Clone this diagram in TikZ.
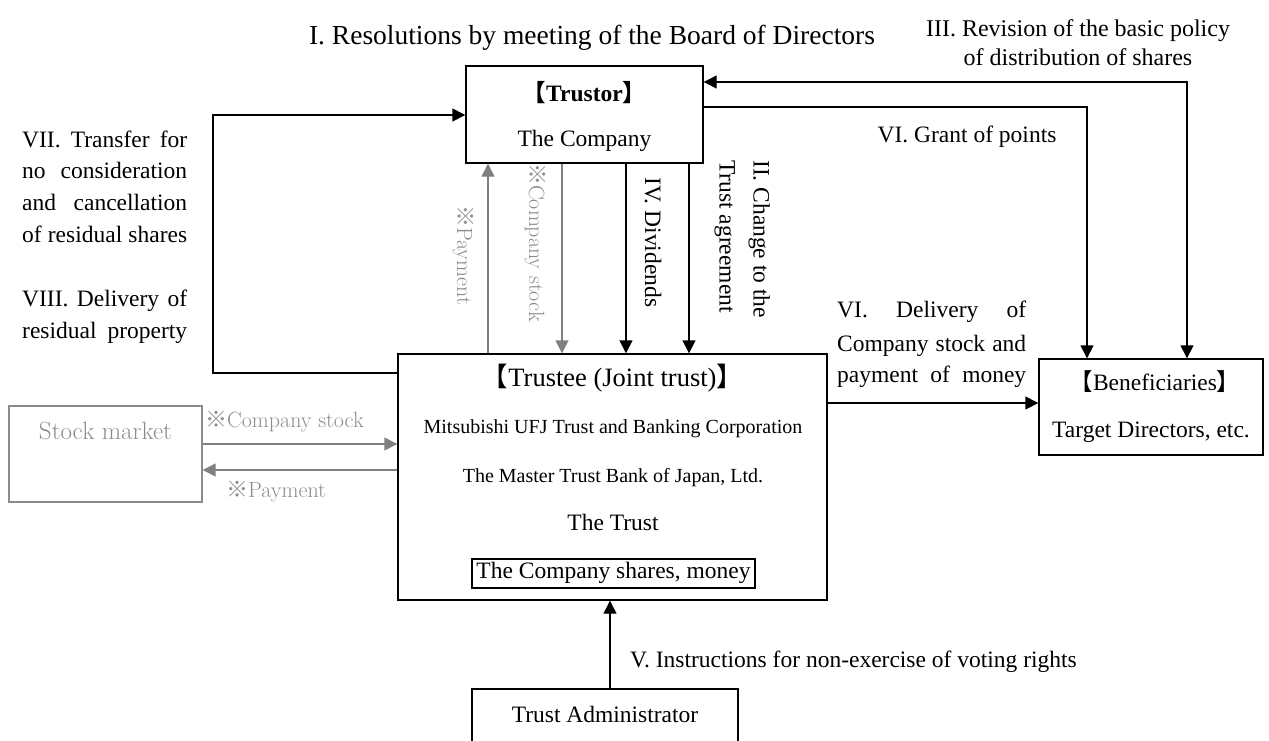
\documentclass[tikz,border=0pt]{standalone}
\usepackage{fontspec}
\setmainfont{Liberation Serif}
\newfontfamily\cjk{Noto Sans CJK JP}
\usetikzlibrary{arrows.meta}
\definecolor{arrgray}{HTML}{808080}
\definecolor{mktgray}{HTML}{8C8C8C}
\newcommand\kome{{\cjk ※}}
\newcommand\lbrk{{\cjk 【}}
\newcommand\rbrk{{\cjk 】}}
\newcommand\lmtext{\fontfamily{lmr}\selectfont}
\begin{document}
\begin{tikzpicture}[x=1pt,y=-1pt,
    box/.style={draw,line width=1.4pt,inner sep=0pt},
    txt/.style={inner sep=0pt,text height=15pt,text depth=7pt,font=\fontsize{23.5}{28}\selectfont},
    gtxt/.style={txt,text=mktgray,font=\fontsize{22}{26}\lmtext},
    link/.style={line width=1.4pt,-{Triangle[length=13pt,width=13pt]}},
    glink/.style={link,draw=arrgray}]
    \useasboundingbox (0,0) rectangle (1269,740);
    \clip (0,0) rectangle (1269,740);
    % boxes
    \node[box,minimum width=237pt,minimum height=97pt] (trustor) at (584.5,114.5) {};
    \node[box,minimum width=429pt,minimum height=246pt] (trustee) at (612.5,477) {};
    \node[box,minimum width=224pt,minimum height=96pt] (benef) at (1151,407) {};
    \node[box,draw=mktgray,minimum width=193pt,minimum height=96pt] (market) at (105.5,454) {};
    \node[box,minimum width=266pt,minimum height=62pt] (tadmin) at (605,720) {};
    % texts in the boxes
    \node[txt] (trustorhd) at (584.5,97) {\bfseries\lbrk Trustor\rbrk};
    \node[txt] (trustorco) at (584.5,142) {The Company};
    \node[txt,font=\fontsize{26.5}{30}\selectfont] (trusteehd) at (612.5,382) {\lbrk Trustee (Joint trust)\rbrk};
    \node[txt,font=\fontsize{20}{24}\selectfont] (mufg) at (613,429) {Mitsubishi UFJ Trust and Banking Corporation};
    \node[txt,font=\fontsize{20}{24}\selectfont] (mtbj) at (613,478) {The Master Trust Bank of Japan, Ltd.};
    \node[txt] (thetrust) at (613,526) {The Trust};
    \node[box,minimum width=283pt,minimum height=29pt] (assets) at (613.5,573.5) {};
    \node[txt] (assetstxt) at (613.5,574) {The Company shares, money};
    \node[txt] (benefhd) at (1155,386) {\lbrk Beneficiaries\rbrk};
    \node[txt] (benefwho) at (1151,433) {Target Directors, etc.};
    \node[txt,text=mktgray,font=\fontsize{25}{30}\lmtext] (markettxt) at (105.5,435) {Stock market};
    \node[txt] (tadmintxt) at (605,718) {Trust Administrator};
    % connectors
    \draw[link] (trustee.west |- 0,373) -| (213,115) -- (trustor.west |- 0,115);
    \draw[link,{Triangle[length=13pt,width=13pt]}-{Triangle[length=13pt,width=13pt]}]
        (trustor.east |- 0,82) -| (benef.north -| 1187,0);
    \draw[link] (trustor.east |- 0,107) -| (benef.north -| 1087,0);
    \draw[glink] (trustee.north -| 488,0) -- (trustor.south -| 488,0);
    \draw[glink] (trustor.south -| 562,0) -- (trustee.north -| 562,0);
    \draw[link] (trustor.south -| 626,0) -- (trustee.north -| 626,0);
    \draw[link] (trustor.south -| 689,0) -- (trustee.north -| 689,0);
    \draw[glink] (market.east |- 0,444) -- (trustee.west |- 0,444);
    \draw[glink] (trustee.west |- 0,470) -- (market.east |- 0,470);
    \draw[link] (trustee.east |- 0,403) -- (benef.west |- 0,403);
    \draw[link] (tadmin.north -| 610,0) -- (trustee.south -| 610,0);
    % labels
    \node[txt,font=\fontsize{27.5}{32}\selectfont] (resol) at (592,40) {I. Resolutions by meeting of the Board of Directors};
    \node[inner sep=0pt,align=center,font=\fontsize{24}{29}\selectfont] (revis) at (1078,43) {III. Revision of the basic policy\\of distribution of shares};
    \node[txt] (grant) at (967,138) {VI. Grant of points};
    \node[txt,anchor=west] (instr) at (630,663) {V. Instructions for non-exercise of voting rights};
    \node[txt,rotate=-90,anchor=west] (divid) at (649,177) {IV. Dividends};
    \node[inner sep=0pt,rotate=-90,anchor=north west,align=left,font=\fontsize{23.5}{34}\selectfont] (change) at (770,160) {II. Change to the\\Trust agreement};
    \node[gtxt,rotate=-90,anchor=west] (paytrustor) at (461,205) {\kome Payment};
    \node[gtxt,rotate=-90,anchor=west] (stocktrustee) at (533,163) {\kome Company stock};
    \node[gtxt,anchor=west] (stockbuy) at (205,423) {\kome Company stock};
    \node[gtxt,anchor=west] (paymarket) at (226,493) {\kome Payment};
    \foreach \yy/\words in {143/VII. Transfer for,174/no consideration,206/and cancellation,238/of residual shares,302/VIII. Delivery of,334/residual property}
        \node[txt,anchor=west] (note\yy) at (22,\yy) {\makebox[165pt][s]{\words}};
    \foreach \yy/\words in {313/VI. Delivery of,347/Company stock and,378/payment of money}
        \node[txt,anchor=west] (deliv\yy) at (837,\yy) {\makebox[189pt][s]{\words}};
\end{tikzpicture}
\end{document}
